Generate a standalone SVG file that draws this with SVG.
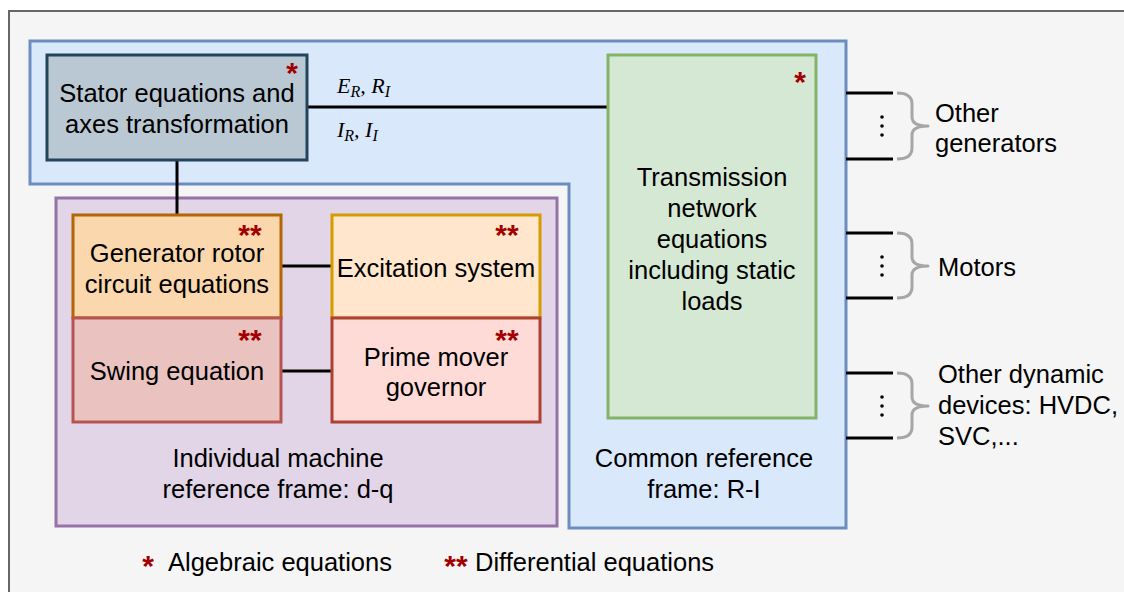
<svg xmlns="http://www.w3.org/2000/svg" width="1124" height="592" viewBox="0 0 1124 592">
  <style>
    .lbl { font-family: "Liberation Sans", Arial, Helvetica, sans-serif; font-size: 25.5px; fill: #000; }
    .mid { text-anchor: middle; }
    .star { font-family: "Liberation Sans", Arial, sans-serif; font-weight: bold; font-size: 30px; fill: #a20000; text-anchor: middle; }
    .math { font-family: "Liberation Serif", "Times New Roman", serif; font-style: italic; font-size: 22px; fill: #000; }
    .sub { font-size: 16px; }
    .wire { stroke: #000; stroke-width: 3; fill: none; }
    .brace { stroke: #a6a6a6; stroke-width: 3; fill: none; stroke-linejoin: round; }
    .dot { fill: #000; }
  </style>

  <!-- background frame -->
  <rect x="9" y="11" width="1140" height="600" fill="#f5f5f5" stroke="#666666" stroke-width="2"/>

  <!-- R-I reference frame region (L-shaped) -->
  <g id="frame-ri">
    <path d="M30,41 H846 V528 H569 V184 H30 Z" fill="#dae8fc" stroke="#6c8ebf" stroke-width="3"/>
    <text class="lbl mid" x="704" y="467">Common reference</text>
    <text class="lbl mid" x="704" y="498">frame: R-I</text>
  </g>

  <!-- d-q reference frame region -->
  <g id="frame-dq">
    <rect x="56" y="198" width="501" height="328" fill="#e1d5e7" stroke="#9673a6" stroke-width="3"/>
    <text class="lbl mid" x="278" y="467">Individual machine</text>
    <text class="lbl mid" x="278" y="498">reference frame: d-q</text>
  </g>

  <!-- connectors -->
  <g id="connectors">
    <line class="wire" x1="307" y1="107" x2="608" y2="107"/>
    <line class="wire" x1="177" y1="160" x2="177" y2="215"/>
    <line class="wire" x1="281" y1="266" x2="332" y2="266"/>
    <line class="wire" x1="281" y1="371" x2="332" y2="371"/>
    <text class="math" x="337" y="93">E<tspan class="sub" dy="4">R</tspan><tspan dy="-4">, R</tspan><tspan class="sub" dy="4">I</tspan></text>
    <text class="math" x="337" y="137">I<tspan class="sub" dy="4">R</tspan><tspan dy="-4">, I</tspan><tspan class="sub" dy="4">I</tspan></text>
    <!-- external device feeders -->
    <line class="wire" x1="846" y1="93" x2="893" y2="93"/>
    <line class="wire" x1="846" y1="159" x2="893" y2="159"/>
    <line class="wire" x1="846" y1="233" x2="893" y2="233"/>
    <line class="wire" x1="846" y1="298" x2="893" y2="298"/>
    <line class="wire" x1="846" y1="373" x2="893" y2="373"/>
    <line class="wire" x1="846" y1="438" x2="893" y2="438"/>
  </g>

  <!-- stator equations -->
  <g id="stator">
    <rect x="47" y="55" width="260" height="105" fill="#bac8d3" stroke="#23445d" stroke-width="3"/>
    <text class="lbl mid" x="177" y="102">Stator equations and</text>
    <text class="lbl mid" x="177" y="133">axes transformation</text>
    <text class="star" x="292" y="83">*</text>
  </g>

  <!-- transmission network -->
  <g id="network">
    <rect x="608" y="55" width="208" height="363" fill="#d5e8d4" stroke="#82b366" stroke-width="3"/>
    <text class="lbl mid" x="712" y="186">Transmission</text>
    <text class="lbl mid" x="712" y="217">network</text>
    <text class="lbl mid" x="712" y="248">equations</text>
    <text class="lbl mid" x="712" y="279">including static</text>
    <text class="lbl mid" x="712" y="310">loads</text>
    <text class="star" x="800" y="92">*</text>
  </g>

  <!-- generator rotor circuit -->
  <g id="rotor">
    <rect x="73" y="215" width="208" height="103" fill="#fad7ac" stroke="#b46504" stroke-width="3"/>
    <text class="lbl mid" x="177" y="262">Generator rotor</text>
    <text class="lbl mid" x="177" y="293">circuit equations</text>
    <text class="star" x="250" y="245">**</text>
  </g>

  <!-- excitation system -->
  <g id="excitation">
    <rect x="332" y="215" width="208" height="103" fill="#ffe6cc" stroke="#d79b00" stroke-width="3"/>
    <text class="lbl mid" x="436" y="277">Excitation system</text>
    <text class="star" x="507" y="245">**</text>
  </g>

  <!-- swing equation -->
  <g id="swing">
    <rect x="73" y="318" width="208" height="104" fill="#eac3c1" stroke="#b85450" stroke-width="3"/>
    <text class="lbl mid" x="177" y="380">Swing equation</text>
    <text class="star" x="250" y="350">**</text>
  </g>

  <!-- prime mover governor -->
  <g id="governor">
    <rect x="332" y="318" width="208" height="104" fill="#ffdbd7" stroke="#ae4132" stroke-width="3"/>
    <text class="lbl mid" x="436" y="366">Prime mover</text>
    <text class="lbl mid" x="436" y="396">governor</text>
    <text class="star" x="507" y="350">**</text>
  </g>

  <!-- other generators -->
  <g id="other-generators">
    <circle class="dot" cx="882" cy="117" r="1.8"/>
    <circle class="dot" cx="882" cy="126" r="1.8"/>
    <circle class="dot" cx="882" cy="135" r="1.8"/>
    <path class="brace" d="M897,93 Q912,93 912,104 V117 Q912,126 928,126 Q912,126 912,135 V148 Q912,159 897,159"/>
    <text class="lbl" x="935" y="122">Other</text>
    <text class="lbl" x="935" y="152">generators</text>
  </g>

  <!-- motors -->
  <g id="motors">
    <circle class="dot" cx="882" cy="257" r="1.8"/>
    <circle class="dot" cx="882" cy="266" r="1.8"/>
    <circle class="dot" cx="882" cy="275" r="1.8"/>
    <path class="brace" d="M897,233 Q912,233 912,244 V257 Q912,266 928,266 Q912,266 912,275 V287 Q912,298 897,298"/>
    <text class="lbl" x="938" y="276">Motors</text>
  </g>

  <!-- other dynamic devices -->
  <g id="other-devices">
    <circle class="dot" cx="882" cy="397" r="1.8"/>
    <circle class="dot" cx="882" cy="406" r="1.8"/>
    <circle class="dot" cx="882" cy="415" r="1.8"/>
    <path class="brace" d="M897,373 Q912,373 912,384 V397 Q912,406 928,406 Q912,406 912,415 V427 Q912,438 897,438"/>
    <text class="lbl" x="938" y="383">Other dynamic</text>
    <text class="lbl" x="938" y="414">devices: HVDC,</text>
    <text class="lbl" x="938" y="445">SVC,...</text>
  </g>

  <!-- legend -->
  <g id="legend">
    <text class="star" x="148" y="576">*</text>
    <text class="lbl" x="168" y="571">Algebraic equations</text>
    <text class="star" x="456" y="576">**</text>
    <text class="lbl" x="475" y="571">Differential equations</text>
  </g>
</svg>
